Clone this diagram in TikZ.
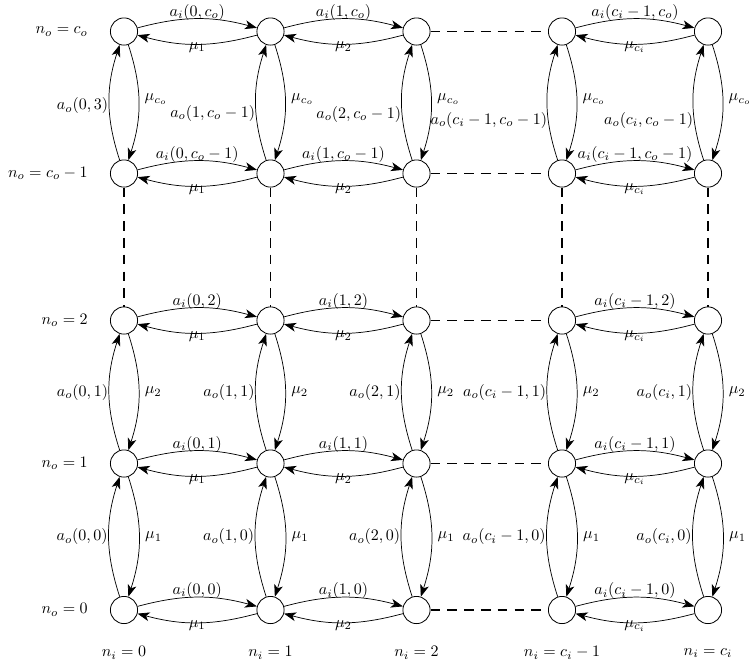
\documentclass[tikz,border=0pt]{standalone}
\usetikzlibrary{arrows.meta}
\tikzset{
  st/.style={circle,draw,minimum size=17pt,inner sep=0pt,line width=0.5pt},
  arr/.style={-{Stealth[length=7.5pt,width=5.5pt,inset=2pt]},line width=0.45pt},
  dsh/.style={dash pattern=on 6pt off 4.5pt,line width=0.9pt},
  toplab/.style={inner sep=0pt,yshift=-1pt},
  botlab/.style={inner sep=0pt,yshift=1.5pt},
  leftlab/.style={inner sep=0.5pt},
  rightlab/.style={inner sep=1pt,xshift=2.5pt},
  rowlab/.style={anchor=east,inner sep=0pt},
  collab/.style={inner sep=0pt}
}
\newcommand\hpr[4]{%
  \draw[arr] (#1) to[bend left=15] node[above,toplab]{$#3$} (#2);
  \draw[arr] (#2) to[bend left=15] node[below,botlab]{$#4$} (#1);}
\newcommand\vpr[6]{%
  \draw[arr] (#1) to[bend left=18] node[left,leftlab,pos=#5]{$#3$} (#2);
  \draw[arr] (#2) to[bend left=18] node[right,rightlab,pos=#6]{$#4$} (#1);}
\begin{document}
\begin{tikzpicture}[x=0.625pt,y=0.625pt]
\useasboundingbox (0,0) rectangle (749,-663);
% nodes: s<col><row>, row 0 = bottom
\foreach \c/\x in {0/124,1/270.5,2/416.5,3/562,4/708}{
  \foreach \r/\y in {0/-610,1/-463.5,2/-320.5,3/-173.5,4/-31.5}{
    \node[st] (s\c\r) at (\x,\y) {};
  }
}
% row labels
\node[rowlab] (ro4) at (88,-31.5) {$n_o = c_o$};
\node[rowlab] (ro3) at (88,-173.5) {$n_o = c_o - 1$};
\node[rowlab] (ro2) at (88,-320.5) {$n_o = 2$};
\node[rowlab] (ro1) at (88,-463.5) {$n_o = 1$};
\node[rowlab] (ro0) at (88,-610) {$n_o = 0$};
% column labels
\node[collab] (ci0) at (124,-653) {$n_i = 0$};
\node[collab] (ci1) at (270.5,-653) {$n_i = 1$};
\node[collab] (ci2) at (416.5,-653) {$n_i = 2$};
\node[collab] (ci3) at (562,-653) {$n_i = c_i - 1$};
\node[collab] (ci4) at (708,-653) {$n_i = c_i$};
% horizontal pairs
\hpr{s04}{s14}{a_i(0,c_o)}{\mu_1}
\hpr{s14}{s24}{a_i(1,c_o)}{\mu_2}
\hpr{s34}{s44}{a_i(c_i-1,c_o)}{\mu_{c_i}}
\hpr{s03}{s13}{a_i(0,c_o-1)}{\mu_1}
\hpr{s13}{s23}{a_i(1,c_o-1)}{\mu_2}
\hpr{s33}{s43}{a_i(c_i-1,c_o-1)}{\mu_{c_i}}
\hpr{s02}{s12}{a_i(0,2)}{\mu_1}
\hpr{s12}{s22}{a_i(1,2)}{\mu_2}
\hpr{s32}{s42}{a_i(c_i-1,2)}{\mu_{c_i}}
\hpr{s01}{s11}{a_i(0,1)}{\mu_1}
\hpr{s11}{s21}{a_i(1,1)}{\mu_2}
\hpr{s31}{s41}{a_i(c_i-1,1)}{\mu_{c_i}}
\hpr{s00}{s10}{a_i(0,0)}{\mu_1}
\hpr{s10}{s20}{a_i(1,0)}{\mu_2}
\hpr{s30}{s40}{a_i(c_i-1,0)}{\mu_{c_i}}
% vertical pairs
\vpr{s03}{s04}{a_o(0,3)}{\mu_{c_o}}{0.47}{0.47}
\vpr{s13}{s14}{a_o(1,c_o-1)}{\mu_{c_o}}{0.4}{0.47}
\vpr{s23}{s24}{a_o(2,c_o-1)}{\mu_{c_o}}{0.39}{0.47}
\vpr{s33}{s34}{a_o(c_i-1,c_o-1)}{\mu_{c_o}}{0.34}{0.47}
\vpr{s43}{s44}{a_o(c_i,c_o-1)}{\mu_{c_o}}{0.34}{0.47}
\vpr{s01}{s02}{a_o(0,1)}{\mu_2}{0.5}{0.5}
\vpr{s11}{s12}{a_o(1,1)}{\mu_2}{0.5}{0.5}
\vpr{s21}{s22}{a_o(2,1)}{\mu_2}{0.5}{0.5}
\vpr{s31}{s32}{a_o(c_i-1,1)}{\mu_2}{0.5}{0.5}
\vpr{s41}{s42}{a_o(c_i,1)}{\mu_2}{0.5}{0.5}
\vpr{s00}{s01}{a_o(0,0)}{\mu_1}{0.5}{0.5}
\vpr{s10}{s11}{a_o(1,0)}{\mu_1}{0.5}{0.5}
\vpr{s20}{s21}{a_o(2,0)}{\mu_1}{0.5}{0.5}
\vpr{s30}{s31}{a_o(c_i-1,0)}{\mu_1}{0.5}{0.5}
\vpr{s40}{s41}{a_o(c_i,0)}{\mu_1}{0.5}{0.5}
% dashed links
\foreach \r in {0,1,2,3,4}{\draw[dsh] (s2\r) -- (s3\r);}
\foreach \c in {0,1,2,3,4}{\draw[dsh] (s\c3) -- (s\c2);}
\end{tikzpicture}
\end{document}
